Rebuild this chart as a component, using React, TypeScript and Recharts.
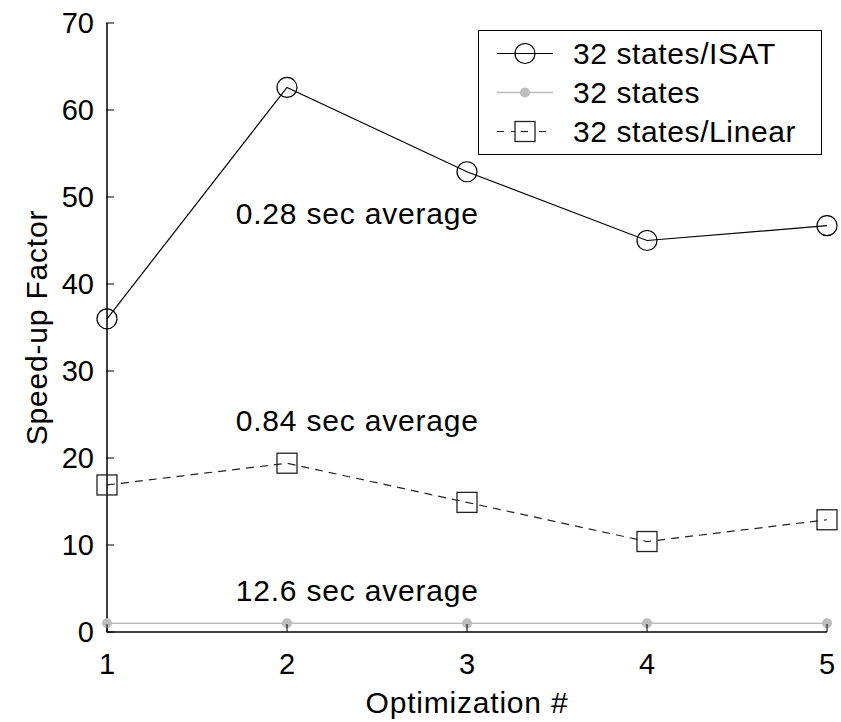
import React from 'react';
import { LineChart, Line, XAxis, YAxis, ReferenceDot, Legend } from 'recharts';

const runs = [1, 2, 3, 4, 5];
const isat = [36.0, 62.6, 52.9, 45.0, 46.7];
const plain = [1, 1, 1, 1, 1];
const linear = [16.9, 19.4, 14.9, 10.4, 12.9];
const yTicks = [0, 10, 20, 30, 40, 50, 60, 70];
const notes = [
    { text: '0.28 sec average', x: 2.39, y: 48.1 },
    { text: '0.84 sec average', x: 2.39, y: 24.3 },
    { text: '12.6 sec average', x: 2.39, y: 4.8 },
];

const data = runs.map((run, i) => ({ run, isat: isat[i], plain: plain[i], linear: linear[i] }));

const FONT = '"Liberation Sans", Arial, sans-serif';
const GRAY = '#bdbdbd';
const SPACING = '0.8px';

const YTick = (props: any) => {
    const { x, y, payload } = props;
    const ax = x + 12;
    return (
        <g>
            <line x1={ax} x2={ax + 8} y1={y} y2={y} stroke="#000" strokeWidth={1} />
            <text x={x} y={y} dy="0.36em" textAnchor="end" fontSize={29} fill="#000" fontFamily={FONT}>
                {payload.value}
            </text>
        </g>
    );
};

const XTick = (props: any) => {
    const { x, y, payload } = props;
    const ay = y - 21;
    return (
        <g>
            <line x1={x} x2={x} y1={ay} y2={ay - 8} stroke="#000" strokeWidth={1} />
            <text x={x} y={y} dy="0.71em" textAnchor="middle" fontSize={29} fill="#000" fontFamily={FONT}>
                {payload.value}
            </text>
        </g>
    );
};

const Square = (p: any) => (
    <rect key={`sq-${p.index}`} x={p.cx - 10} y={p.cy - 10} width={20} height={20} fill="none" stroke="#222" strokeWidth={1.3} />
);

const legendRows = [
    { name: '32 states/ISAT', kind: 'circle' },
    { name: '32 states', kind: 'dot' },
    { name: '32 states/Linear', kind: 'square' },
];

const LegendBox = () => (
    <div
        style={{
            boxSizing: 'border-box',
            width: 344,
            height: 125,
            border: '1.5px solid #000',
            background: '#fff',
            padding: '3px 0 0 18px',
            fontFamily: FONT,
        }}
    >
        {legendRows.map((r) => (
            <div key={r.name} style={{ display: 'flex', alignItems: 'center', height: 39 }}>
                <svg width={56} height={39} style={{ marginRight: 20 }}>
                    {r.kind === 'circle' && (
                        <>
                            <line x1={0} x2={56} y1={19.5} y2={19.5} stroke="#000" strokeWidth={1.2} />
                            <circle cx={28} cy={19.5} r={10} fill="none" stroke="#000" strokeWidth={1.2} />
                        </>
                    )}
                    {r.kind === 'dot' && (
                        <>
                            <line x1={0} x2={56} y1={19.5} y2={19.5} stroke={GRAY} strokeWidth={1.5} />
                            <circle cx={28} cy={19.5} r={5} fill={GRAY} />
                        </>
                    )}
                    {r.kind === 'square' && (
                        <>
                            <line x1={0} x2={56} y1={19.5} y2={19.5} stroke="#222" strokeWidth={1.2} strokeDasharray="7 7" />
                            <rect x={18} y={9.5} width={20} height={20} fill="#fff" stroke="#222" strokeWidth={1.3} />
                            <line x1={21} x2={35} y1={19.5} y2={19.5} stroke="#222" strokeWidth={1.2} strokeDasharray="7 7" strokeDashoffset={-3} />
                        </>
                    )}
                </svg>
                <span style={{ fontSize: 30, color: '#000', lineHeight: '39px', letterSpacing: '0.6px' }}>{r.name}</span>
            </div>
        ))}
    </div>
);

export default function App() {
    return (
        <div style={{ position: 'absolute', left: 0, top: 0, width: 841, height: 722, background: '#fff' }}>
            <LineChart width={841} height={722} data={data} margin={{ top: 23, right: 14, bottom: 50, left: 0 }}>
                <XAxis
                    type="number"
                    dataKey="run"
                    domain={[1, 5]}
                    ticks={runs}
                    tickSize={0}
                    tickMargin={21}
                    tickLine={false}
                    tick={<XTick />}
                    height={40}
                    stroke="#000"
                    axisLine={{ stroke: '#000', strokeWidth: 1.5 }}
                    label={{
                        content: ({ viewBox }: any) => (
                            <text
                                x={viewBox.x + viewBox.width / 2}
                                y={viewBox.y + 81}
                                textAnchor="middle"
                                fontSize={30}
                                letterSpacing={SPACING}
                                fill="#000"
                                fontFamily={FONT}
                            >
                                Optimization #
                            </text>
                        ),
                    }}
                />
                <YAxis
                    type="number"
                    domain={[0, 70]}
                    ticks={yTicks}
                    width={107}
                    tickSize={0}
                    tickMargin={13}
                    tickLine={false}
                    tick={<YTick />}
                    axisLine={{ stroke: '#000', strokeWidth: 1.5 }}
                    label={{
                        content: ({ viewBox }: any) => {
                            const cx = viewBox.x + 36;
                            const cy = viewBox.y + viewBox.height / 2;
                            return (
                                <text
                                    x={cx}
                                    y={cy}
                                    dy="0.36em"
                                    transform={`rotate(-90 ${cx} ${cy})`}
                                    textAnchor="middle"
                                    fontSize={30}
                                    letterSpacing={SPACING}
                                    fill="#000"
                                    fontFamily={FONT}
                                >
                                    Speed-up Factor
                                </text>
                            );
                        },
                    }}
                />
                <Legend
                    layout="vertical"
                    align="center"
                    verticalAlign="middle"
                    content={<LegendBox />}
                    wrapperStyle={{ left: 478, top: 30, width: 344, height: 125 }}
                />
                <Line
                    dataKey="plain"
                    stroke={GRAY}
                    strokeWidth={1.5}
                    dot={{ r: 5, fill: GRAY, stroke: GRAY, strokeWidth: 0 }}
                    isAnimationActive={false}
                />
                <Line
                    dataKey="linear"
                    stroke="#222"
                    strokeWidth={1.2}
                    strokeDasharray="8 6"
                    dot={Square}
                    isAnimationActive={false}
                />
                <Line
                    dataKey="isat"
                    stroke="#000"
                    strokeWidth={1.2}
                    dot={{ r: 10, fill: 'none', stroke: '#000', strokeWidth: 1.2 }}
                    isAnimationActive={false}
                />
                {notes.map((n) => (
                    <ReferenceDot
                        key={n.text}
                        x={n.x}
                        y={n.y}
                        r={1}
                        fill="none"
                        stroke="none"
                        label={{
                            value: n.text,
                            position: 'center',
                            fontSize: 30,
                            letterSpacing: SPACING,
                            fill: '#000',
                            fontFamily: FONT,
                        }}
                    />
                ))}
            </LineChart>
        </div>
    );
}
